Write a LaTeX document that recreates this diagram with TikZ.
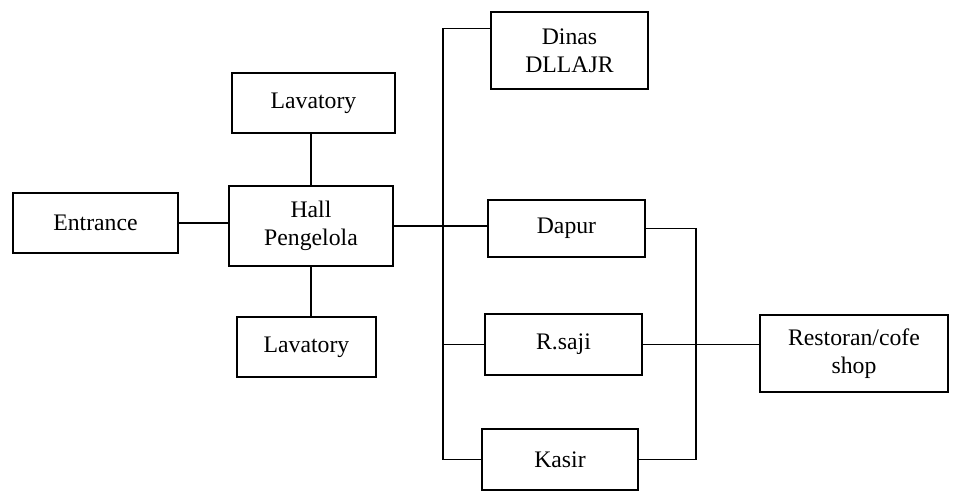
\documentclass[tikz,border=0pt]{standalone}
\usepackage{fontspec}
\setmainfont{Liberation Serif}
\usepackage{tikz}
\usetikzlibrary{positioning,calc}

\begin{document}
\begin{tikzpicture}[
  roombox/.style={draw, line width=0.9pt, align=center, inner sep=2pt, font=\fontsize{13.5}{16}\selectfont},
  link/.style={line width=0.9pt}
]
  \useasboundingbox (0,0) rectangle (19.24,9.84);

  %% Hall side
  \node[roombox, minimum width=3.3cm, minimum height=1.2cm]  (entrance) at (1.91,5.38) {Entrance};
  \node[roombox, minimum width=3.28cm, minimum height=1.6cm] (hall)     at (6.22,5.32) {Hall\\Pengelola};
  \node[roombox, minimum width=3.26cm, minimum height=1.2cm] (lavtop)   at (6.27,7.78) {Lavatory};
  \node[roombox, minimum width=2.78cm, minimum height=1.2cm] (lavbot)   at (6.13,2.90) {Lavatory};

  %% Service column
  \node[roombox, minimum width=3.14cm, minimum height=1.54cm] (dinas) at (11.39,8.83) {Dinas\\DLLAJR};
  \node[roombox, minimum width=3.14cm, minimum height=1.14cm] (dapur) at (11.33,5.27) {Dapur};
  \node[roombox, minimum width=3.14cm, minimum height=1.22cm] (rsaji) at (11.27,2.95) {R.saji};
  \node[roombox, minimum width=3.12cm, minimum height=1.22cm] (kasir) at (11.20,0.65) {Kasir};

  %% Restaurant
  \node[roombox, minimum width=3.76cm, minimum height=1.54cm] (restoran) at (17.08,2.77) {Restoran/cofe\\shop};

  %% Buses
  \coordinate (lbus) at (8.86,0);
  \coordinate (rbus) at (13.92,0);
  \coordinate (dinasin) at ($(dinas.north west)!0.22!(dinas.south west)$);

  %% Connectors
  \draw[link] (entrance.east) -- (entrance.east -| hall.west);
  \draw[link] (hall.north) -- (hall.north |- lavtop.south);
  \draw[link] (hall.south) -- (hall.south |- lavbot.north);
  \draw[link] (hall.east) -- (hall.east -| dapur.west);
  \draw[link] (dinasin) -| (lbus |- kasir.west) -- (kasir.west);
  \draw[link] (lbus |- rsaji.west) -- (rsaji.west);
  \draw[link] (dapur.east) -| (rbus |- kasir.east) -- (kasir.east);
  \draw[link] (rsaji.east) -- (rsaji.east -| restoran.west);
\end{tikzpicture}
\end{document}
